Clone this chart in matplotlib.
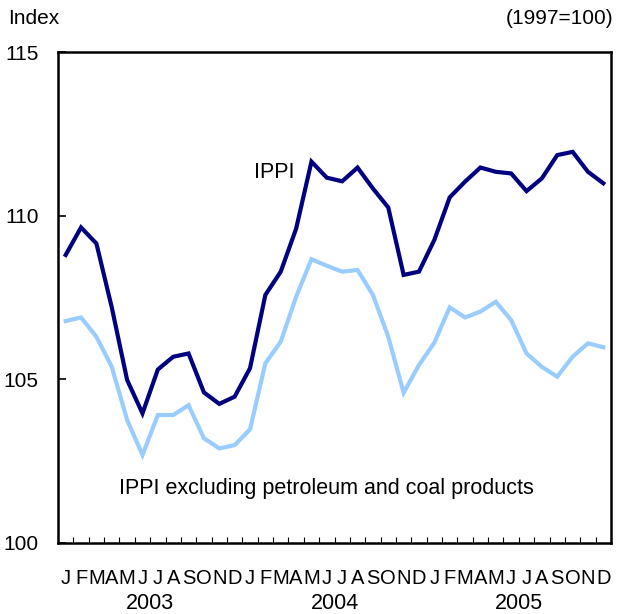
import matplotlib
matplotlib.use("Agg")
import matplotlib.pyplot as plt
import numpy as np

months = ["J", "F", "M", "A", "M", "J", "J", "A", "S", "O", "N", "D"] * 3
years = ["2003", "2004", "2005"]
ippi = [108.8, 109.64, 109.15, 107.2, 104.98, 103.96, 105.3, 105.69, 105.79, 104.6, 104.25, 104.47,
        105.34, 107.58, 108.29, 109.6, 111.65, 111.16, 111.05, 111.47, 110.83, 110.25, 108.19, 108.29,
        109.26, 110.56, 111.04, 111.47, 111.34, 111.29, 110.75, 111.14, 111.85, 111.95, 111.34, 110.99]
ippi_ex = [106.78, 106.89, 106.3, 105.38, 103.76, 102.69, 103.91, 103.91, 104.21, 103.2, 102.89, 102.99,
           103.47, 105.49, 106.15, 107.52, 108.67, 108.47, 108.29, 108.34, 107.58, 106.3, 104.59, 105.44,
           106.12, 107.2, 106.89, 107.07, 107.37, 106.81, 105.79, 105.38, 105.08, 105.69, 106.1, 105.98]
yticks = [100, 105, 110, 115]

plt.rcParams['font.family'] = ['Liberation Sans', 'DejaVu Sans']

fig = plt.figure(figsize=(6.21, 6.14), dpi=100)
ax = fig.add_axes([58/621, 71/614, 553/621, 491/614])
x = np.arange(len(ippi))
ax.plot(x, ippi_ex, color='#99ccff', lw=3.0, solid_joinstyle='miter')
ax.plot(x, ippi, color='#000080', lw=3.0, solid_joinstyle='miter')

ax.set_xlim(-0.5, len(ippi) - 0.5)
ax.set_ylim(100, 115)
ax.set_yticks(yticks)
ax.set_yticklabels([str(v) for v in yticks], fontsize=15)
ax.tick_params(axis='y', direction='in', length=6, width=1.2, pad=14)
ax.set_xticks(np.arange(-0.5, len(ippi), 1.0))
ax.set_xticklabels([])
ax.tick_params(axis='x', direction='in', length=4, width=0.8)
for s in ax.spines.values():
    s.set_linewidth(1.8)

narrow = ['Liberation Sans Narrow', 'Liberation Sans', 'DejaVu Sans']
for i, m in enumerate(months):
    ax.text(i, -0.072, m, transform=ax.get_xaxis_transform(), ha='center', va='center',
            fontsize=14.5, family=narrow)
for k, yr in enumerate(years):
    ax.text(k * 12 + 5.5, -0.124, yr, transform=ax.get_xaxis_transform(), ha='center', va='center',
            fontsize=15.5)

ax.text(13.6, 111.33, "IPPI", fontsize=15.5, ha='center', va='center')
ax.text(16.98, 101.68, "IPPI excluding petroleum and coal products", fontsize=15.5, ha='center', va='center')

fig.text(8/621, 1 - 18/614, "Index", fontsize=15, ha='left', va='center')
fig.text(613/621, 1 - 18/614, "(1997=100)", fontsize=15, ha='right', va='center')

fig.savefig("out.png", dpi=100)
